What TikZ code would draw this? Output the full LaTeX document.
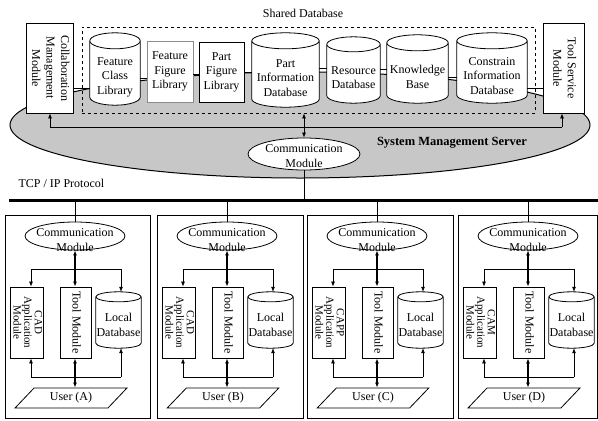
\documentclass[tikz,border=0pt]{standalone}
\usepackage{fontspec}
\setmainfont{Liberation Serif}
\usepackage{graphicx}
\usetikzlibrary{shapes.geometric,arrows.meta,calc}

\newcommand{\vtext}[1]{\rotatebox{-90}{\begin{tabular}{@{}c@{}}#1\end{tabular}}}
% name, position, width, height, cap half depth, text
\newcommand{\dbcyl}[6]{%
  \node[minimum width=#3, minimum height=#4, inner sep=0pt] (#1) at (#2) {};
  \draw[line width=0.8pt, fill=white]
    let \p1=(#1.north west), \p2=(#1.south east), \n1={(\x2-\x1)/2} in
    (\x1,{\y1-#5pt}) -- (\x1,{\y2+#5pt})
      arc[start angle=180, end angle=360, x radius=\n1, y radius=#5pt]
      -- (\x2,{\y1-#5pt})
      arc[start angle=0, end angle=180, x radius=\n1, y radius=#5pt] -- cycle
    (\x1,{\y1-#5pt}) arc[start angle=180, end angle=360, x radius=\n1, y radius=#5pt];
  \node[dbtext] (txt#1) at ([yshift=-#5pt]#1.center) {#6};
}

\begin{document}
\begin{tikzpicture}[x=1pt,y=-1pt,
    font=\fontsize{12}{14.5}\selectfont,
    >={Latex[length=5pt,width=4pt]},
    box/.style={draw, fill=white, align=center, inner sep=0pt, line width=0.8pt},
    dbtext/.style={align=center, inner sep=0pt},
    commell/.style={ellipse, draw, fill=white, inner sep=0pt, line width=0.8pt},
    userbox/.style={trapezium, trapezium left angle=45, trapezium right angle=135,
        trapezium stretches=true, draw, inner sep=0pt, line width=0.8pt},
    link/.style={line width=0.7pt},
    thicklink/.style={line width=1.5pt}]
\useasboundingbox (0,0) rectangle (598,421);

% Server
\node[ellipse, draw, fill=black!22, line width=1pt, minimum width=580, minimum height=106] (sms) at (300,125) {};
\node[font=\fontsize{12.5}{15}\selectfont\bfseries] (smslabel) at (452,143) {System Management Server};
\node[draw, dashed, line width=0.9pt, minimum width=453, minimum height=86, inner sep=0pt] (shared) at (308.5,70) {};
\node (sharedlabel) at (303,13) {Shared Database};

% Shared database
\node[box, minimum width=47, minimum height=90] (collab) at (49.5,68) {\vtext{Collaboration\\Management\\Module}};
\node[box, minimum width=41, minimum height=90] (toolsrv) at (563.5,68) {\vtext{Tool Service\\Module}};
\dbcyl{fcl}{115,69}{50}{72}{8}{Feature\\Class\\Library}
\node[box, draw=black!45, minimum width=46, minimum height=61] (ffl) at (170,71.5) {Feature\\Figure\\Library};
\node[box, minimum width=45, minimum height=60] (pfl) at (221.5,72) {Part\\Figure\\Library};
\dbcyl{pidb}{285.5,70}{67}{74}{8}{Part\\Information\\Database}
\dbcyl{rdb}{353.5,70}{53}{66}{7.5}{Resource\\Database}
\dbcyl{kb}{417.5,69}{61}{68}{8}{Knowledge\\Base}
\dbcyl{cidb}{492,68}{70}{70}{8}{Constrain\\Information\\Database}

\draw[link] ([yshift=-20pt]collab.east) -- ([yshift=-20pt]collab.east -| fcl.west);
\draw[link] ([yshift=-9pt]fcl.east) -- ([yshift=-9pt]fcl.east -| ffl.west);
\draw[link] ([yshift=-3pt]ffl.east) -- ([yshift=-3pt]ffl.east -| pfl.west);
\draw[link] (pfl.east) -- (pfl.east -| pidb.west);
\draw[link] ([yshift=2pt]pidb.east) -- ([yshift=2pt]pidb.east -| rdb.west);
\draw[link] ([yshift=1pt]rdb.east) -- ([yshift=1pt]rdb.east -| kb.west);
\draw[link] ([yshift=-8pt]kb.east) -- ([yshift=-8pt]kb.east -| cidb.west);
\draw[link] ([yshift=-20pt]cidb.east) -- ([yshift=-20pt]cidb.east -| toolsrv.west);

% Server communication
\node[commell, minimum width=112, minimum height=32] (scomm) at (304,154) {};
\node[align=center] (scommtxt) at ([yshift=-2pt]scomm.center) {Communication\\Module};
\coordinate (busL) at (50,127);
\coordinate (busR) at (562,127);
\draw[link] (busL) -- (busR);
\draw[link,->] (busL) -- (busL |- collab.south);
\draw[link,->] (busR) -- (busR |- toolsrv.south);
\draw[link,<->] (scomm.north |- shared.south) -- (scomm.north);

% Network
\node[anchor=west] (tcp) at (15,183) {TCP / IP Protocol};
\coordinate (busW) at (9,200);
\coordinate (busE) at (598,200);
\draw[line width=3pt] (busW) -- (busE);
\draw[link] (scomm.south) -- (scomm.south |- busW);

% Clients
\foreach \cli/\l/\r/\app in {A/5/150/CAD, B/157/303/CAD, C/307/453/CAPP, D/458/597/CAM}{
  \draw[link] (\l,215) rectangle (\r,418);
  \node[commell, minimum width=100, minimum height=28] (comm\cli) at ({\l+70},236) {};
  \node[align=center] (commtxt\cli) at ([yshift=-4pt]comm\cli.center) {Communication\\Module};
  \node[box, font=\fontsize{11}{10}\selectfont, minimum width=33, minimum height=71] (app\cli) at ({\l+21.5},322.5) {\vtext{\app\\Application\\Module}};
  \node[box, minimum width=31, minimum height=71] (tool\cli) at ({\l+70.5},322.5) {\vtext{Tool Module}};
  \dbcyl{ldb\cli}{{\l+113.5},320}{45}{56}{5}{Local\\Database}
  \node[userbox, minimum width=112, minimum height=20] (user\cli) at ({\l+66},398) {User (\cli)};
  \coordinate (dl\cli) at ({\l+26},269);
  \coordinate (dr\cli) at ({\l+116},269);
  \coordinate (bl\cli) at ({\l+26},377);
  \coordinate (br\cli) at ({\l+116},377);
  \draw[link] (comm\cli.north) -- (comm\cli.north |- busW);
  \draw[link] (dl\cli) -- (dr\cli);
  \draw[link,->] (dl\cli) -- (dl\cli |- app\cli.north);
  \draw[link,->] (dr\cli) -- (dr\cli |- ldb\cli.north);
  \draw[link] (bl\cli) -- (br\cli);
  \draw[link,->] (bl\cli) -- (bl\cli |- app\cli.south);
  \draw[link,->] (br\cli) -- (br\cli |- ldb\cli.south);
  \draw[thicklink,<->] (comm\cli.south) -- (comm\cli.south |- tool\cli.north);
  \draw[thicklink,<->] (tool\cli.south -| comm\cli.south) -- (comm\cli.south |- user\cli.north);
}
\end{tikzpicture}
\end{document}
